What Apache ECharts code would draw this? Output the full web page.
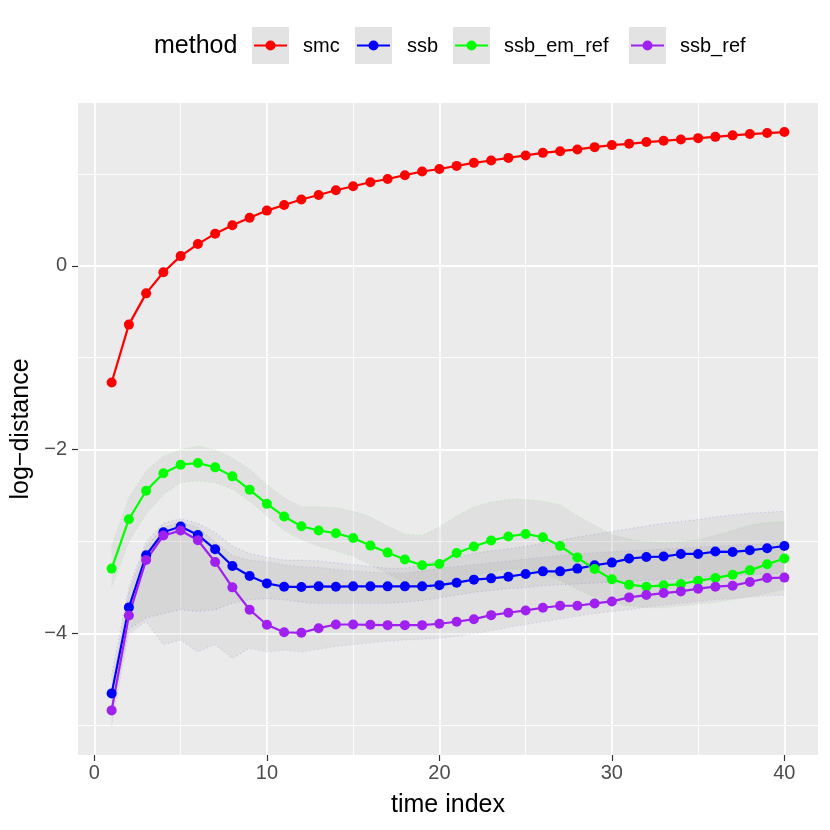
<!DOCTYPE html>
<html>
<head>
<meta charset="utf-8">
<script src="https://cdn.jsdelivr.net/npm/echarts@6/dist/echarts.min.js"></script>
<style>
  html, body { margin: 0; padding: 0; background: #fff; }
  #chart { width: 830px; height: 830px; }
</style>
</head>
<body>
<div id="chart"></div>
<script>
'use strict';

// data (x = time index 1..40)
const timeIndex = [1, 2, 3, 4, 5, 6, 7, 8, 9, 10, 11, 12, 13, 14, 15, 16, 17, 18, 19, 20,
  21, 22, 23, 24, 25, 26, 27, 28, 29, 30, 31, 32, 33, 34, 35, 36, 37, 38, 39, 40];

const methods = ['smc', 'ssb', 'ssb_em_ref', 'ssb_ref'];
const methodColors = ['#FF0000', '#0000FF', '#00FF00', '#A020F0'];

const smc = [-1.27, -0.64, -0.30, -0.07, 0.105, 0.236, 0.349, 0.44, 0.523, 0.60,
  0.661, 0.72, 0.77, 0.821, 0.865, 0.908, 0.944, 0.985, 1.025, 1.052,
  1.086, 1.119, 1.145, 1.173, 1.20, 1.228, 1.246, 1.265, 1.29, 1.312,
  1.326, 1.345, 1.359, 1.374, 1.388, 1.402, 1.418, 1.432, 1.443, 1.454];

const ssb = [-4.65, -3.715, -3.148, -2.897, -2.835, -2.927, -3.083, -3.265, -3.374, -3.454,
  -3.49, -3.494, -3.486, -3.49, -3.486, -3.486, -3.486, -3.486, -3.486, -3.473,
  -3.446, -3.413, -3.399, -3.381, -3.352, -3.323, -3.323, -3.293, -3.257, -3.228,
  -3.184, -3.167, -3.162, -3.134, -3.134, -3.108, -3.112, -3.094, -3.072, -3.047];

const ssbEmRef = [-3.293, -2.756, -2.447, -2.257, -2.163, -2.145, -2.192, -2.29, -2.436, -2.589,
  -2.726, -2.832, -2.879, -2.908, -2.96, -3.043, -3.119, -3.195, -3.257, -3.243,
  -3.123, -3.053, -2.988, -2.944, -2.916, -2.952, -3.047, -3.173, -3.298, -3.41,
  -3.468, -3.49, -3.475, -3.461, -3.424, -3.396, -3.359, -3.312, -3.246, -3.184];

const ssbRef = [-4.835, -3.803, -3.2, -2.934, -2.879, -2.985, -3.221, -3.497, -3.741, -3.904,
  -3.985, -3.991, -3.941, -3.901, -3.901, -3.904, -3.908, -3.908, -3.908, -3.893,
  -3.871, -3.843, -3.799, -3.773, -3.748, -3.719, -3.697, -3.697, -3.672, -3.65,
  -3.606, -3.581, -3.559, -3.541, -3.511, -3.49, -3.479, -3.439, -3.396, -3.391];

// ribbon bounds (estimated)
const ssbLower = [-4.85, -3.95, -3.83, -3.78, -3.74, -3.76, -3.74, -3.67, -3.63, -3.62,
  -3.63, -3.66, -3.67, -3.67, -3.67, -3.67, -3.67, -3.66, -3.64, -3.61,
  -3.58, -3.55, -3.53, -3.51, -3.50, -3.48, -3.47, -3.46, -3.45, -3.44,
  -3.43, -3.42, -3.41, -3.40, -3.39, -3.38, -3.37, -3.36, -3.35, -3.34];
const ssbUpper = [-4.45, -3.50, -3.00, -2.80, -2.75, -2.80, -2.90, -3.05, -3.13, -3.17,
  -3.20, -3.20, -3.21, -3.23, -3.25, -3.27, -3.29, -3.29, -3.25, -3.20,
  -3.17, -3.13, -3.10, -3.08, -3.05, -3.02, -2.99, -2.95, -2.92, -2.89,
  -2.86, -2.83, -2.80, -2.78, -2.76, -2.73, -2.71, -2.69, -2.68, -2.67];

const emLower = [-3.50, -3.00, -2.70, -2.49, -2.36, -2.34, -2.36, -2.43, -2.56, -2.72,
  -2.88, -2.98, -3.05, -3.10, -3.16, -3.25, -3.35, -3.45, -3.52, -3.52,
  -3.45, -3.38, -3.33, -3.30, -3.30, -3.34, -3.42, -3.52, -3.60, -3.67,
  -3.70, -3.72, -3.72, -3.70, -3.68, -3.66, -3.63, -3.60, -3.56, -3.52];
const emUpper = [-3.05, -2.52, -2.23, -2.07, -2.00, -1.96, -2.00, -2.09, -2.21, -2.38,
  -2.52, -2.62, -2.62, -2.63, -2.67, -2.73, -2.83, -2.92, -2.93, -2.84,
  -2.72, -2.62, -2.57, -2.54, -2.54, -2.56, -2.60, -2.72, -2.82, -2.92,
  -2.97, -3.00, -3.01, -3.00, -2.98, -2.93, -2.88, -2.82, -2.79, -2.78];

const refLower = [-5.00, -4.00, -3.87, -4.12, -4.07, -4.20, -4.12, -4.27, -4.16, -4.20,
  -4.18, -4.20, -4.17, -4.14, -4.12, -4.10, -4.08, -4.07, -4.06, -4.05,
  -4.03, -4.00, -3.97, -3.93, -3.90, -3.87, -3.84, -3.81, -3.78, -3.76,
  -3.74, -3.71, -3.69, -3.67, -3.65, -3.63, -3.62, -3.60, -3.59, -3.58];
const refUpper = [-4.60, -3.55, -3.05, -2.85, -2.78, -2.85, -3.00, -3.15, -3.20, -3.22,
  -3.25, -3.27, -3.28, -3.30, -3.32, -3.33, -3.34, -3.34, -3.32, -3.29,
  -3.27, -3.25, -3.23, -3.21, -3.19, -3.17, -3.15, -3.13, -3.12, -3.11,
  -3.10, -3.09, -3.08, -3.07, -3.06, -3.05, -3.04, -3.03, -3.02, -3.00];

const xBreaks = [0, 10, 20, 30, 40];
const xMinor = [5, 15, 25, 35];
const yBreaks = [-4, -2, 0];
const yMinor = [-5, -3, -1, 1];

const FONT = '"Liberation Sans", Arial, sans-serif';
const chart = echarts.init(document.getElementById('chart'), null, { renderer: 'canvas' });

function ribbon(name, lower, upper, edge) {
  const pts = timeIndex.map((t, i) => [t, lower[i], upper[i]]);
  return {
    type: 'custom', name, z: 2, silent: true, animation: false,
    data: pts,
    encode: { x: 0, y: [1, 2] },
    renderItem(params, api) {
      if (params.dataIndex !== 0) return null;
      const top = pts.map((d) => api.coord([d[0], d[2]]));
      const bot = pts.map((d) => api.coord([d[0], d[1]]));
      const dotted = { stroke: edge, lineWidth: 1.2, lineDash: [1, 3], fill: null };
      return {
        type: 'group',
        children: [
          { type: 'polygon', shape: { points: top.concat(bot.slice().reverse()) }, style: { fill: 'rgba(127,127,127,0.1)' } },
          { type: 'polyline', shape: { points: top }, style: dotted },
          { type: 'polyline', shape: { points: bot }, style: dotted }
        ]
      };
    }
  };
}

function line(name, values, color) {
  return {
    type: 'line', name, z: 3, animation: false,
    data: timeIndex.map((t, i) => [t, values[i]]),
    symbol: 'circle', symbolSize: 10, showSymbol: true,
    lineStyle: { color, width: 2.2 },
    itemStyle: { color }
  };
}

const gridLines = [].concat(
  xBreaks.map((v) => ({ xAxis: v, lineStyle: { color: '#fff', width: 1.8, type: 'solid' } })),
  xMinor.map((v) => ({ xAxis: v, lineStyle: { color: '#fff', width: 0.9, type: 'solid' } })),
  yBreaks.map((v) => ({ yAxis: v, lineStyle: { color: '#fff', width: 1.8, type: 'solid' } })),
  yMinor.map((v) => ({ yAxis: v, lineStyle: { color: '#fff', width: 0.9, type: 'solid' } }))
);

// ggplot-like legend built from graphic elements
const keyX = [252, 355, 453, 629];
const labelX = [303, 407, 504, 680];
const legendGraphic = [{
  type: 'text', x: 154, y: 46, silent: true,
  style: { text: 'method', fontSize: 25, fontFamily: FONT, fill: '#000', verticalAlign: 'middle' }
}];
methods.forEach((m, i) => {
  legendGraphic.push({
    type: 'group', x: keyX[i], y: 27, silent: true,
    children: [
      { type: 'rect', shape: { x: 0, y: 0, width: 37, height: 37 }, style: { fill: '#E3E3E3' } },
      { type: 'line', shape: { x1: 2, y1: 18.5, x2: 35, y2: 18.5 }, style: { stroke: methodColors[i], lineWidth: 2.2 } },
      { type: 'circle', shape: { cx: 18.5, cy: 18.5, r: 5 }, style: { fill: methodColors[i] } }
    ]
  });
  legendGraphic.push({
    type: 'text', x: labelX[i], y: 46, silent: true,
    style: { text: m, fontSize: 20, fontFamily: FONT, fill: '#000', verticalAlign: 'middle' }
  });
});

const minus = (v) => (v < 0 ? '\u2212' + Math.abs(v) : String(v));

chart.setOption({
  backgroundColor: '#ffffff',
  animation: false,
  textStyle: { fontFamily: FONT },
  grid: {
    left: 78, right: 12, top: 103, bottom: 75,
    show: true, backgroundColor: '#EBEBEB', borderWidth: 0
  },
  xAxis: {
    type: 'value', min: -0.95, max: 41.95,
    axisLine: { show: false, onZero: false },
    axisTick: { show: true, customValues: xBreaks, length: 6, lineStyle: { color: '#333333', width: 1.2 } },
    axisLabel: { customValues: xBreaks, color: '#4D4D4D', fontSize: 20, margin: 8 },
    splitLine: { show: false },
    name: 'time index', nameLocation: 'middle', nameGap: 38,
    nameTextStyle: { color: '#000', fontSize: 25 }
  },
  yAxis: {
    type: 'value', min: -5.32, max: 1.77,
    axisLine: { show: false, onZero: false },
    axisTick: { show: true, customValues: yBreaks, length: 6, lineStyle: { color: '#333333', width: 1.2 } },
    axisLabel: { customValues: yBreaks, color: '#4D4D4D', fontSize: 20, margin: 11, formatter: minus },
    splitLine: { show: false },
    name: 'log\u2212distance', nameLocation: 'middle', nameGap: 33, nameRotate: 90,
    nameTextStyle: { color: '#000', fontSize: 25 }
  },
  graphic: legendGraphic,
  series: [
    {
      type: 'line', data: [], z: 1, silent: true,
      markLine: { z: 1, silent: true, symbol: 'none', animation: false, label: { show: false }, data: gridLines }
    },
    ribbon('ssb band', ssbLower, ssbUpper, 'rgba(0,0,255,0.18)'),
    ribbon('ssb_em_ref band', emLower, emUpper, 'rgba(0,255,0,0.18)'),
    ribbon('ssb_ref band', refLower, refUpper, 'rgba(160,32,240,0.18)'),
    line('smc', smc, methodColors[0]),
    line('ssb', ssb, methodColors[1]),
    line('ssb_em_ref', ssbEmRef, methodColors[2]),
    line('ssb_ref', ssbRef, methodColors[3])
  ]
});
</script>
</body>
</html>
